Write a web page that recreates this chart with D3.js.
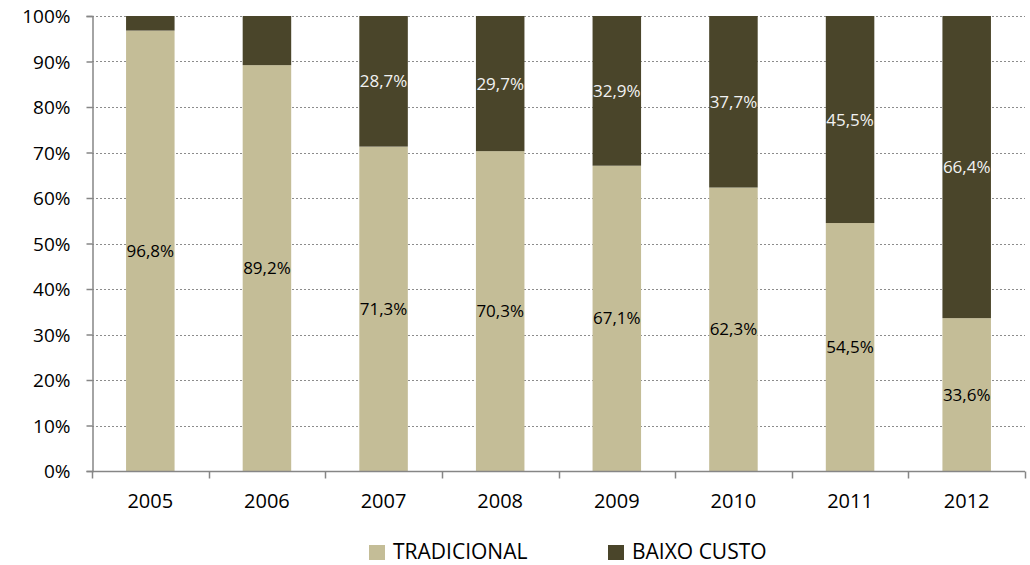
<!DOCTYPE html>
<html><head><meta charset="utf-8">
<script src="https://cdn.jsdelivr.net/npm/d3@7"></script>
<style>body{margin:0;background:#fff;} text{font-family:"Open Sans","Liberation Sans",sans-serif;}</style>
</head><body>
<svg id="c" width="1030" height="565"></svg>
<script>
const years = ["2005","2006","2007","2008","2009","2010","2011","2012"];
const tradicional = [96.8, 89.2, 71.3, 70.3, 67.1, 62.3, 54.5, 33.6];
const baixoCusto = [3.2, 10.8, 28.7, 29.7, 32.9, 37.7, 45.5, 66.4];
const showLabelBaixo = [false, false, true, true, true, true, true, true];
const yTicks = [0,10,20,30,40,50,60,70,80,90,100];
const seriesNames = ["TRADICIONAL","BAIXO CUSTO"];
const colors = ["#C4BD97","#4A452A"];

(function(){
const svg = d3.select("#c");
const mL = 92, mR = 1025, mT = 16, mB = 471;
const x = d3.scaleBand().domain(years).range([mL, mR]).paddingInner(0.584).paddingOuter(0.292);
const y = d3.scaleLinear().domain([0,100]).range([mB, mT]);

// gridlines
svg.append("g").selectAll("line").data(yTicks.filter(d=>d>0)).join("line")
  .attr("x1", mL).attr("x2", mR)
  .attr("y1", d=>Math.round(y(d))+0.5).attr("y2", d=>Math.round(y(d))+0.5)
  .attr("stroke", "#8c8c8c").attr("stroke-width", 1).attr("stroke-dasharray", "2,2");

const fmt = v => v.toFixed(1).replace(".", ",") + "%";

const data = years.map((yr,i)=>({yr, t: tradicional[i], b: baixoCusto[i], show: showLabelBaixo[i]}));

const g = svg.append("g");
g.selectAll("rect.t").data(data).join("rect").attr("class","t")
  .attr("x", d=>x(d.yr)).attr("width", x.bandwidth())
  .attr("y", d=>y(d.t)).attr("height", d=>y(0)-y(d.t))
  .attr("fill", colors[0]);
g.selectAll("rect.b").data(data).join("rect").attr("class","b")
  .attr("x", d=>x(d.yr)).attr("width", x.bandwidth())
  .attr("y", d=>y(d.t+d.b)).attr("height", d=>y(d.t)-y(d.t+d.b))
  .attr("fill", colors[1]);

// labels
g.selectAll("text.lt").data(data).join("text").attr("class","lt")
  .attr("x", d=>x(d.yr)+x.bandwidth()/2).attr("y", d=>y(d.t/2))
  .attr("dy","0.36em").attr("text-anchor","middle")
  .attr("font-size", 17).attr("fill","#000").text(d=>fmt(d.t));
g.selectAll("text.lb").data(data.filter(d=>d.show)).join("text").attr("class","lb")
  .attr("x", d=>x(d.yr)+x.bandwidth()/2).attr("y", d=>y(d.t + d.b/2))
  .attr("dy","0.36em").attr("text-anchor","middle")
  .attr("font-size", 17).attr("fill","#f2f2f2").text(d=>fmt(d.b));

// y axis
const yAxis = svg.append("g").attr("transform", `translate(${mL+0.5},0)`)
  .call(d3.axisLeft(y).tickValues(yTicks).tickFormat(d=>d+"%").tickSizeOuter(0).tickSize(6).tickPadding(16));
yAxis.select(".domain").attr("stroke","#868686").attr("stroke-width",1.5);
yAxis.selectAll(".tick line").attr("stroke","#868686").attr("stroke-width",1.5);
yAxis.selectAll(".tick text").attr("font-size",19).attr("fill","#000").attr("dy","0.36em")
  .style("font-family","'Open Sans','Liberation Sans',sans-serif");

// x axis
const xg = svg.append("g").attr("transform", `translate(0,${mB+0.5})`);
xg.append("line").attr("x1", mL).attr("x2", mR).attr("stroke","#868686").attr("stroke-width",1.5);
const bounds = years.map(yr=>x(yr)-x.step()*x.paddingInner()/2).concat([mR]);
xg.selectAll("line.tk").data(bounds).join("line").attr("class","tk")
  .attr("x1", d=>Math.round(d)+0.5).attr("x2", d=>Math.round(d)+0.5).attr("y1",0).attr("y2",7)
  .attr("stroke","#868686").attr("stroke-width",1.5);
xg.selectAll("text").data(years).join("text")
  .attr("x", d=>x(d)+x.bandwidth()/2).attr("y", 36.5)
  .attr("text-anchor","middle").attr("font-size",20).attr("fill","#000").text(d=>d);

// legend
const legX = [369, 608];
const lg = svg.append("g");
seriesNames.forEach((n,i)=>{
  lg.append("rect").attr("x", legX[i]).attr("y", 545).attr("width", 16).attr("height", 15).attr("fill", colors[i]);
  lg.append("text").attr("x", legX[i]+24).attr("y", 559)
    .attr("font-size",21).attr("fill","#000").text(n);
});
})();
</script>
</body></html>
